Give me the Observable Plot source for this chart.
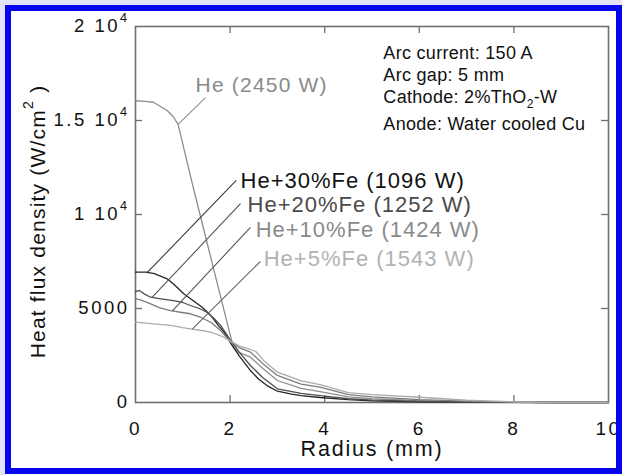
<!DOCTYPE html>
<html>
<head>
<meta charset="utf-8">
<script src="https://cdn.jsdelivr.net/npm/d3@7"></script>
<script src="https://cdn.jsdelivr.net/npm/@observablehq/plot@0.6"></script>
<style>
  html, body { margin: 0; padding: 0; background: #fff; }
  #wrap { position: relative; width: 622px; height: 475px; overflow: hidden; }
  #wrap .halo { position: absolute; left: 0; top: 0; width: 622px; height: 475px;
    box-sizing: border-box; border-left: 5px solid #e2e2f8; border-top: 5px solid #e2e2f8; pointer-events: none; }
  #wrap .border { position: absolute; left: 5px; top: 5px; width: 617px; height: 469px;
    box-sizing: border-box; border: 6px solid #0606ee; pointer-events: none; }
  /* tracking per text size */
  svg g[font-size="18.5"] text { letter-spacing: 2.5px; }
  svg g[font-size="19"] text { letter-spacing: 2.5px; }
  svg g[font-size="22"] text { letter-spacing: 1px; }
  svg g[font-size="21"] text { letter-spacing: 1.2px; }
  svg g[font-size="21.5"] text { letter-spacing: 1.8px; }
  svg g[font-size="18"] text { letter-spacing: 0.3px; }
</style>
</head>
<body>
<div id="wrap"></div>
<script>
// Radial heat flux density at the anode, pure He arc and He with Fe vapour
const seriesNames = ["He", "He+30%Fe", "He+20%Fe", "He+10%Fe", "He+5%Fe"];

const radiusHe = [0, 0.2, 0.38, 0.67, 0.8, 0.9, 1.2, 1.5, 1.8, 2.0, 2.07, 2.2, 2.43, 2.7, 3.0, 3.5, 3.9, 4.5, 5, 6, 7, 8, 8.6, 10];
const fluxHe   = [16050, 16020, 15970, 15530, 15200, 14790, 11650, 8630, 5620, 3620, 2930, 2650, 2410, 1800, 1170, 750, 580, 300, 200, 100, 50, 15, 0, 0];

const radiusFe30 = [0, 0.22, 0.4, 0.67, 0.85, 1.02, 1.2, 1.41, 1.59, 1.75, 1.87, 2.0, 2.2, 2.43, 2.6, 2.8, 3.0, 3.3, 3.5, 3.9, 4.5, 5, 6, 7, 8, 9, 10];
const fluxFe30   = [6930, 6930, 6850, 6580, 6200, 5780, 5450, 5070, 4630, 4100, 3740, 3200, 2450, 1700, 1250, 870, 600, 440, 370, 265, 150, 90, 35, 15, 5, 0, 0];

const radiusFe20 = [0, 0.08, 0.18, 0.32, 0.5, 0.8, 1.0, 1.16, 1.35, 1.51, 1.65, 1.8, 2.0, 2.2, 2.43, 2.7, 3.0, 3.5, 3.9, 4.5, 5, 6, 7, 8, 9, 10];
const fluxFe20   = [5900, 5960, 5780, 5600, 5520, 5420, 5320, 5160, 5000, 4800, 4500, 4100, 3350, 2650, 1970, 1300, 730, 480, 370, 200, 130, 60, 25, 5, 0, 0];

const radiusFe10 = [0, 0.12, 0.32, 0.5, 0.74, 0.95, 1.16, 1.35, 1.59, 1.8, 2.0, 2.2, 2.43, 2.7, 3.0, 3.5, 3.9, 4.5, 5, 6, 7, 8, 8.6, 10];
const fluxFe10   = [5520, 5450, 5250, 5050, 4890, 4800, 4720, 4560, 4270, 3830, 3250, 2900, 2680, 2050, 1440, 980, 820, 420, 300, 150, 70, 20, 0, 0];

const radiusFe5 = [0, 0.32, 0.74, 1.0, 1.16, 1.4, 1.59, 1.75, 1.87, 2.0, 2.2, 2.43, 2.55, 2.7, 3.0, 3.5, 3.9, 4.5, 5, 6, 7, 8, 8.6, 10];
const fluxFe5   = [4270, 4190, 4100, 3980, 3920, 3830, 3740, 3600, 3470, 3280, 3000, 2820, 2700, 2250, 1610, 1150, 950, 520, 420, 280, 120, 40, 0, 0];

const radii  = [radiusHe, radiusFe30, radiusFe20, radiusFe10, radiusFe5];
const fluxes = [fluxHe, fluxFe30, fluxFe20, fluxFe10, fluxFe5];

// Curve labels with arc power
const labelText = ["He (2450 W)", "He+30%Fe (1096 W)", "He+20%Fe (1252 W)", "He+10%Fe (1424 W)", "He+5%Fe (1543 W)"];

// Axis ticks
const xTicks = [0, 2, 4, 6, 8, 10];
const yTicks = [0, 5000, 10000, 15000, 20000];
const yTickLabels = ["0", "5000", "1 10{^4}", "1.5 10{^4}", "2 10{^4}"];

// Operating conditions
const infoLines = ["Arc current: 150 A", "Arc gap: 5 mm", "Cathode: 2%ThO{_2}-W", "Anode: Water cooled Cu"];

// --- layout and styling ---
const lineColors   = ["#8e8e8e", "#262626", "#4e4e4e", "#7c7c7c", "#ababab"];
const labelColors  = ["#8a8a8a", "#111111", "#4a4a4a", "#8a8a8a", "#b2b2b2"];
const leaderColors = ["#8e8e8e", "#3a3a3a", "#555555", "#555555", "#666666"];
const leaderFrom = [0.9, 0.25, 0.35, 0.78, 1.2];          // radius where each leader touches its curve
const leaderToX  = [1.48, 2.13, 2.22, 2.43, 2.64];
const leaderToY  = [16220, 11810, 10585, 9310, 7500];
const labelX = [1.27, 2.22, 2.37, 2.54, 2.71];
const labelY = [16860, 11810, 10530, 9200, 7660];
const infoX = 5.24;
const infoY = [18560, 17390, 16220, 14790];

function fluxAt(i, r) {
  const R = radii[i], Q = fluxes[i];
  for (let k = 1; k < R.length; k++) {
    if (r <= R[k]) {
      const t = (r - R[k - 1]) / (R[k] - R[k - 1]);
      return Q[k - 1] + t * (Q[k] - Q[k - 1]);
    }
  }
  return Q[Q.length - 1];
}

const idx = d3.range(seriesNames.length);
const innerH = 376, innerW = 473, tickLen = 7;

const chart = Plot.plot({
  width: 622,
  height: 475,
  marginLeft: 135,
  marginRight: 14,
  marginTop: 26,
  marginBottom: 73,
  x: {domain: [0, 10]},
  y: {domain: [0, 20000]},
  color: {type: "identity"},
  style: {fontFamily: "'Liberation Sans', Arial, sans-serif", background: "white", color: "#111"},
  marks: [
    Plot.frame({stroke: "#6e6e6e", strokeWidth: 1.6}),
    // inward ticks on all four sides
    Plot.tickX(xTicks.slice(1, -1), {x: d => d, insetTop: innerH - tickLen, stroke: "#6e6e6e", strokeWidth: 1.3}),
    Plot.tickX(xTicks.slice(1, -1), {x: d => d, insetBottom: innerH - tickLen, stroke: "#6e6e6e", strokeWidth: 1.3}),
    Plot.tickY(yTicks.slice(1, -1), {y: d => d, insetRight: innerW - tickLen, stroke: "#6e6e6e", strokeWidth: 1.3}),
    Plot.tickY(yTicks.slice(1, -1), {y: d => d, insetLeft: innerW - tickLen, stroke: "#6e6e6e", strokeWidth: 1.3}),
    Plot.axisX({ticks: xTicks, tickSize: 0, tickPadding: 19, fontSize: 19, label: null, tickFormat: d => String(d)}),
    Plot.axisY({ticks: yTicks, tickSize: 0, tickPadding: 6, fontSize: 18.5, label: null,
      tickFormat: d => yTickLabels[yTicks.indexOf(d)]}),
    // curves
    ...idx.map(i => Plot.line(d3.zip(radii[i], fluxes[i]), {
      x: d => d[0], y: d => d[1], stroke: lineColors[i], strokeWidth: 1.3
    })),
    // leader lines
    Plot.link(idx, {
      x1: i => leaderFrom[i], y1: i => fluxAt(i, leaderFrom[i]),
      x2: i => leaderToX[i], y2: i => leaderToY[i],
      stroke: i => leaderColors[i], strokeWidth: 1.1
    }),
    // curve labels
    Plot.text([0], {x: i => labelX[i], y: i => labelY[i], text: i => labelText[i],
      fill: i => labelColors[i], textAnchor: "start", fontSize: 21}),
    Plot.text(idx.slice(1), {x: i => labelX[i], y: i => labelY[i], text: i => labelText[i],
      fill: i => labelColors[i], textAnchor: "start", fontSize: 22}),
    // operating conditions
    Plot.text(infoLines, {x: () => infoX, y: (d, i) => infoY[i], text: d => d,
      textAnchor: "start", fontSize: 18, fill: "#111"}),
    // axis titles
    Plot.text(["Radius (mm)"], {frameAnchor: "bottom", lineAnchor: "middle", textAnchor: "middle",
      dy: 47, fontSize: 21.5, fill: "#111"}),
    Plot.text(["Heat flux density (W/cm{^2} )"], {frameAnchor: "left", lineAnchor: "middle", textAnchor: "middle",
      dx: -97, dy: 7, rotate: -90, fontSize: 21, fill: "#111"})
  ]
});

// turn {^x} / {_x} markup into raised or lowered tspans
function applyScripts(svg) {
  const ns = "http://www.w3.org/2000/svg";
  svg.querySelectorAll("text").forEach(t => {
    const s = t.textContent;
    if (!/\{[\^_]/.test(s)) return;
    const fs = parseFloat(getComputedStyle(t).fontSize) || 16;
    const target = t.querySelector("tspan") || t;
    while (target.firstChild) target.removeChild(target.firstChild);
    s.split(/(\{[\^_][^}]*\})/).forEach(p => {
      if (!p) return;
      const m = p.match(/^\{([\^_])([^}]*)\}$/);
      const ts = document.createElementNS(ns, "tspan");
      if (m) {
        ts.textContent = m[2];
        ts.setAttribute("font-size", (fs * 0.68).toFixed(1));
        ts.setAttribute("baseline-shift", m[1] === "^" ? (fs * 0.55).toFixed(1) : (-fs * 0.28).toFixed(1));
      } else {
        ts.textContent = p;
      }
      target.appendChild(ts);
    });
  });
}

const wrap = document.getElementById("wrap");
wrap.appendChild(chart);
applyScripts(chart);
const halo = document.createElement("div"); halo.className = "halo"; wrap.appendChild(halo);
const border = document.createElement("div"); border.className = "border"; wrap.appendChild(border);
</script>
</body>
</html>
